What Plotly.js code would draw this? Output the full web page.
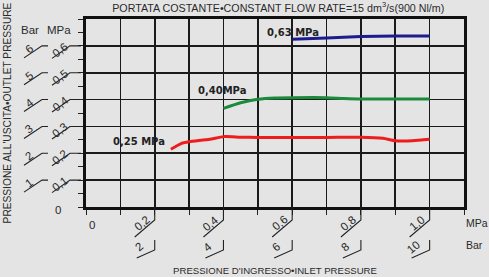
<!DOCTYPE html>
<html><head><meta charset="utf-8">
<script src="https://cdn.plot.ly/plotly-3.0.1.min.js"></script>
<style>html,body{margin:0;padding:0;background:#e4e4e4;}#chart{width:489px;height:277px;}</style>
</head><body><div id="chart"></div>
<script>
// ---- data ----
const seriesNames = ['0,63 MPa', '0,40MPa', '0,25 MPa'];
const seriesColors = ['#1c1c8e', '#1b8a3c', '#ee1c1c'];
const blueX = [0.6, 0.7, 0.8, 0.9, 1.0];
const blueY = [0.625, 0.629, 0.635, 0.637, 0.637];
const greenX = [0.4, 0.45, 0.5, 0.55, 0.6, 0.7, 0.75, 0.8, 0.9, 1.0];
const greenY = [0.367, 0.388, 0.401, 0.406, 0.407, 0.407, 0.404, 0.402, 0.402, 0.402];
const redX = [0.247, 0.278, 0.3, 0.36, 0.4, 0.45, 0.5, 0.6, 0.7, 0.8, 0.864, 0.9, 0.95, 1.0];
const redY = [0.215, 0.237, 0.243, 0.252, 0.262, 0.260, 0.259, 0.259, 0.259, 0.260, 0.256, 0.247, 0.247, 0.252];
const labelX = [0.602, 0.397, 0.154];
const labelY = [0.650, 0.432, 0.243];
const yTickVals = [0.1, 0.2, 0.3, 0.4, 0.5, 0.6];
const yMpaLabels = ['0,1', '0,2', '0,3', '0,4', '0,5', '0,6'];
const yBarLabels = ['1', '2', '3', '4', '5', '6'];
const xTickVals = [0.2, 0.4, 0.6, 0.8, 1.0];
const xMpaLabels = ['0,2', '0,4', '0,6', '0,8', '1,0'];
const xBarLabels = ['2', '4', '6', '8', '10'];

const FONT = 'Liberation Sans Narrow, Arial Narrow, Liberation Sans, sans-serif';
const TXT = '#2a2a2a';

const xs = [blueX, greenX, redX], ys = [blueY, greenY, redY];
const traces = xs.map((x, i) => ({
  x: x, y: ys[i], type: 'scatter', mode: 'lines', name: seriesNames[i],
  line: {color: seriesColors[i], width: 3, shape: 'spline', smoothing: 0.6},
  hoverinfo: 'skip'
}));

const annotations = [];
const shapes = [];
function ann(o) {
  annotations.push(Object.assign({showarrow: false, xanchor: 'center', yanchor: 'middle',
    font: {family: FONT, size: 11.5, color: TXT}}, o));
}
seriesNames.forEach((n, i) => ann({
  x: labelX[i], y: labelY[i], xref: 'x', yref: 'y', text: '<b>' + n + '</b>',
  font: {family: 'DejaVu Sans, sans-serif', size: 10, color: '#222'}
}));
const leader = {color: '#222', width: 1.1};
// y tick labels with slanted leaders
yTickVals.forEach((v, i) => {
  ann({xref: 'paper', yref: 'y', x: 0, y: v, xshift: -26, yshift: -4, text: yMpaLabels[i], textangle: -38});
  ann({xref: 'paper', yref: 'y', x: 0, y: v, xshift: -57, yshift: -3, text: yBarLabels[i], textangle: -38});
  shapes.push({type: 'path', xref: 'paper', yref: 'y', xsizemode: 'pixel', ysizemode: 'pixel',
    xanchor: 0, yanchor: v, path: 'M -5,0 L -16,0 L -34,-12.5', line: leader});
  shapes.push({type: 'path', xref: 'paper', yref: 'y', xsizemode: 'pixel', ysizemode: 'pixel',
    xanchor: 0, yanchor: v, path: 'M -38,0 L -44,0 L -62,-12', line: leader});
});
// x tick labels with slanted leaders
xTickVals.forEach((v, i) => {
  ann({xref: 'x', yref: 'paper', x: v, y: 0, xshift: -12.5, yshift: -16, text: xMpaLabels[i], textangle: -40});
  ann({xref: 'x', yref: 'paper', x: v, y: 0, xshift: -16, yshift: -40, text: xBarLabels[i], textangle: -40});
  shapes.push({type: 'path', xref: 'x', yref: 'paper', xsizemode: 'pixel', ysizemode: 'pixel',
    xanchor: v, yanchor: 0, path: 'M 0,0 L 0,-13 L -20,-30', line: leader});
  shapes.push({type: 'path', xref: 'x', yref: 'paper', xsizemode: 'pixel', ysizemode: 'pixel',
    xanchor: v, yanchor: 0, path: 'M 0,-33 L 0,-43 L -18,-51', line: leader});
});
// zero labels and unit labels
ann({xref: 'paper', yref: 'y', x: 0, y: 0, xshift: -28, yshift: -3, text: '0'});
ann({xref: 'x', yref: 'paper', x: 0, y: 0, xshift: 6, yshift: -18, text: '0'});
ann({xref: 'paper', yref: 'paper', x: 1, y: 0, xshift: 0, yshift: -16, xanchor: 'left', text: 'MPa',
  font: {family: FONT, size: 10.5, color: TXT}});
ann({xref: 'paper', yref: 'paper', x: 1, y: 0, xshift: 0, yshift: -38, xanchor: 'left', text: 'Bar',
  font: {family: FONT, size: 10.5, color: TXT}});
ann({xref: 'paper', yref: 'paper', x: 0, y: 1, xshift: -56, yshift: -11, text: 'Bar'});
ann({xref: 'paper', yref: 'paper', x: 0, y: 1, xshift: -27, yshift: -11, text: 'MPa'});

const axisCommon = {
  showgrid: true, gridcolor: '#1a1a1a', gridwidth: 1.6, zeroline: false,
  showline: true, linecolor: '#111', linewidth: 3, mirror: true,
  ticks: 'outside', ticklen: 5, tickcolor: '#222', tickwidth: 1,
  showticklabels: false, fixedrange: true
};

const layout = {
  width: 489, height: 277,
  paper_bgcolor: '#e4e4e4', plot_bgcolor: '#e4e4e4',
  margin: {l: 86, r: 25, t: 19, b: 70},
  showlegend: false,
  title: {text: 'PORTATA COSTANTE•CONSTANT FLOW RATE=15 dm<sup>3</sup>/s(900 Nl/m)',
    xref: 'container', yref: 'container', x: 0.569, xanchor: 'center', y: 0.972, yanchor: 'middle',
    font: {family: FONT, size: 10.7, color: TXT}},
  xaxis: Object.assign({}, axisCommon, {range: [0, 1.1], tick0: 0, dtick: 0.1,
    title: {text: "PRESSIONE D'INGRESSO•INLET PRESSURE", standoff: 54, font: {family: FONT, size: 9.6, color: TXT}}}),
  yaxis: Object.assign({}, axisCommon, {range: [0, 0.7], tick0: 0, dtick: 0.1,
    minor: {dtick: 0.05, ticks: 'outside', ticklen: 5, tickcolor: '#222', showgrid: false},
    title: {text: "PRESSIONE ALL'USCITA•OUTLET PRESSURE", standoff: 65, font: {family: FONT, size: 10.2, color: TXT}}}),
  annotations: annotations,
  shapes: shapes
};

Plotly.newPlot('chart', traces, layout, {displayModeBar: false, staticPlot: true});
</script></body></html>
